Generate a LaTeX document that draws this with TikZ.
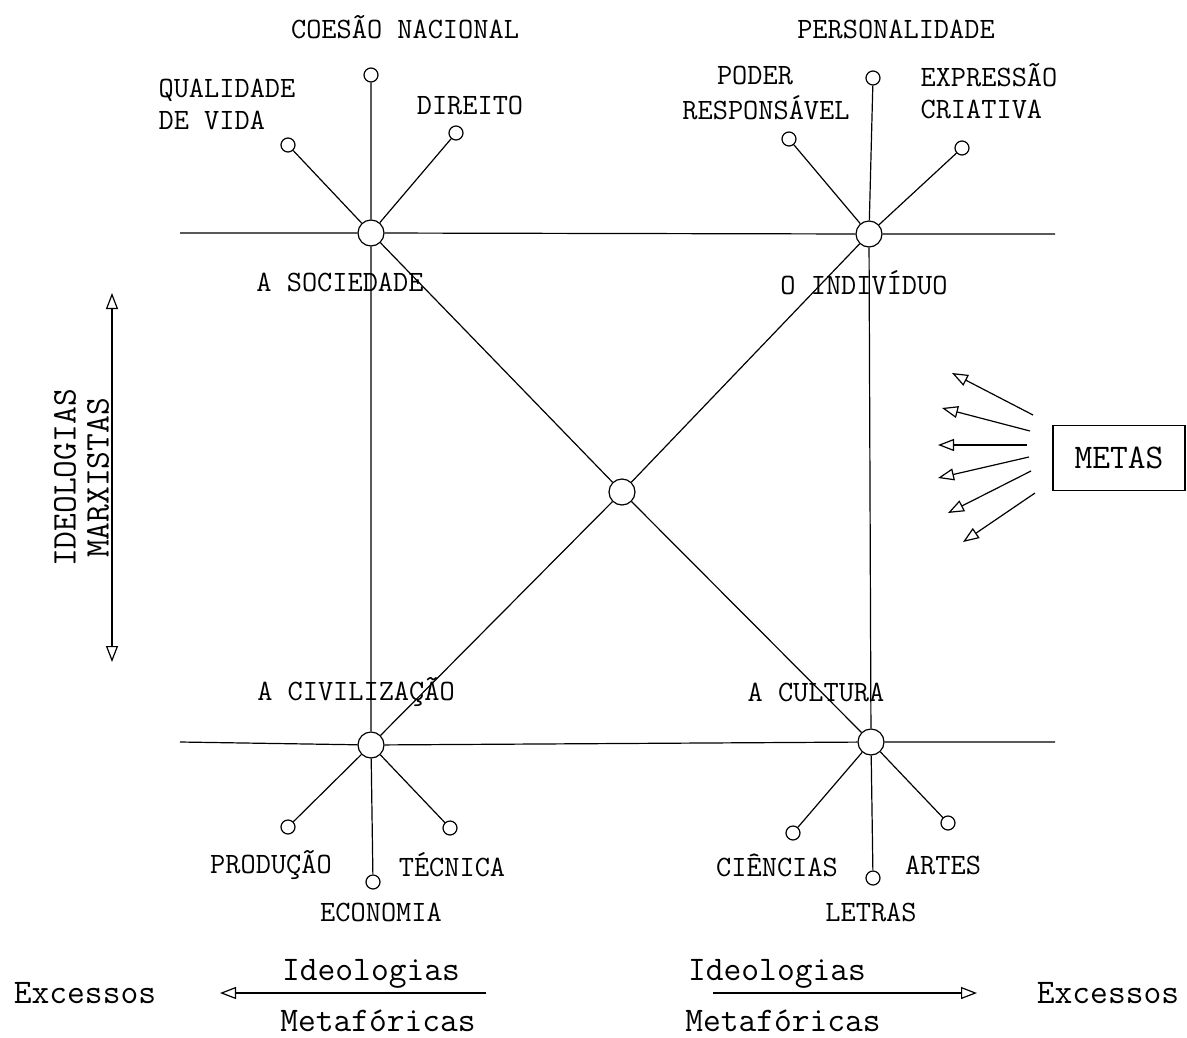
\documentclass[tikz,border=0pt]{standalone}
\usetikzlibrary{arrows.meta}
\begin{document}
\begin{tikzpicture}[x=1pt,y=-1pt, line width=1.2pt,
 big/.style={circle,draw,minimum size=26pt,inner sep=0pt},
 sm/.style={circle,draw,minimum size=14pt,inner sep=0pt},
 lab/.style={font=\fontsize{29.5}{32}\selectfont\ttfamily, inner sep=0pt},
 lab2/.style={font=\fontsize{34.5}{38}\selectfont\ttfamily, inner sep=0pt},
 tip/.tip={Triangle[open,length=16pt,width=12pt]},
 ar/.style={-tip}]
\useasboundingbox (0,0) rectangle (1187,1037);
% big circles
\node[big] (S) at (371,233) {};
\node[big] (I) at (869,234) {};
\node[big] (X) at (622,492) {};
\node[big] (V) at (371,745) {};
\node[big] (K) at (871,742) {};
% small circles
\node[sm] (tl) at (371,75) {};
\node[sm] (ql) at (288,145) {};
\node[sm] (dr) at (456,133) {};
\node[sm] (tr) at (873,78) {};
\node[sm] (pr) at (789,139) {};
\node[sm] (ec) at (962,148) {};
\node[sm] (pd) at (288,827) {};
\node[sm] (tc) at (450,828) {};
\node[sm] (eco) at (373,882) {};
\node[sm] (ci) at (793,833) {};
\node[sm] (ar) at (948,823) {};
\node[sm] (le) at (873,878) {};
% frame coordinates
\coordinate (h1a) at (180,233);
\coordinate (h1b) at (1055,234);
\coordinate (h2a) at (180,742);
\coordinate (h2b) at (1055,742);
% lines
\draw (h1a) -- (S) -- (I) -- (h1b);
\draw (h2a) -- (V) -- (K) -- (h2b);
\draw (tl) -- (S) -- (V) -- (eco);
\draw (tr) -- (I) -- (K) -- (le);
\draw (S) -- (X) -- (K);
\draw (I) -- (X) -- (V);
\draw (ql) -- (S) (dr) -- (S);
\draw (pr) -- (I) (ec) -- (I);
\draw (pd) -- (V) (tc) -- (V);
\draw (ci) -- (K) (ar) -- (K);
% labels
\node[lab] at (405,27) {COESÃO NACIONAL};
\node[lab] at (896,29) {PERSONALIDADE};
\node[lab,align=left,anchor=west] at (158,104) {QUALIDADE\\DE VIDA};
\node[lab] at (470,105) {DIREITO};
\node[lab] at (755,75) {PODER};
\node[lab] at (766,108) {RESPONSÁVEL};
\node[lab,align=left,anchor=west] at (920,91) {EXPRESSÃO\\CRIATIVA};
\node[lab] at (340,282) {A SOCIEDADE};
\node[lab] at (864,283) {O INDIVÍDUO};
\node[lab] at (356,692) {A CIVILIZAÇÃO};
\node[lab] at (816,692) {A CULTURA};
\node[lab] at (271,865) {PRODUÇÃO};
\node[lab] at (452,865) {TÉCNICA};
\node[lab] at (381,912) {ECONOMIA};
\node[lab] at (777,865) {CIÊNCIAS};
\node[lab] at (943,865) {ARTES};
\node[lab] at (871,912) {LETRAS};
% METAS
\node[lab2,draw,line width=1.2pt,minimum width=132pt,minimum height=65pt] (M) at (1119,458) {METAS};
\coordinate (m1s) at (1033,415); \coordinate (m1e) at (952,373);
\coordinate (m2s) at (1030,431); \coordinate (m2e) at (942,408);
\coordinate (m3s) at (1027,445); \coordinate (m3e) at (938,445);
\coordinate (m4s) at (1029,457); \coordinate (m4e) at (938,478);
\coordinate (m5s) at (1031,471); \coordinate (m5e) at (948,513);
\coordinate (m6s) at (1035,493); \coordinate (m6e) at (963,542);
\foreach \i in {1,...,6} {\draw[ar] (m\i s) -- (m\i e);}
% left vertical
\coordinate (va) at (112,293);
\coordinate (vb) at (112,662);
\draw[tip-tip] (va) -- (vb);
\node[lab2,rotate=90] at (65,478) {IDEOLOGIAS};
\node[lab2,rotate=90] at (98,478) {MARXISTAS};
% bottom
\node[lab2] (ex1) at (85,993) {Excessos};
\node[lab2] (ex2) at (1108,993) {Excessos};
\coordinate (la) at (486,993); \coordinate (lb) at (220,993);
\coordinate (ra) at (713,993); \coordinate (rb) at (977,993);
\draw[ar] (la) -- (lb);
\draw[ar] (ra) -- (rb);
\node[lab2] at (371,974) {Ideologias};
\node[lab2] at (378,1021) {Metafóricas};
\node[lab2] at (777,974) {Ideologias};
\node[lab2] at (783,1021) {Metafóricas};
\end{tikzpicture}
\end{document}
